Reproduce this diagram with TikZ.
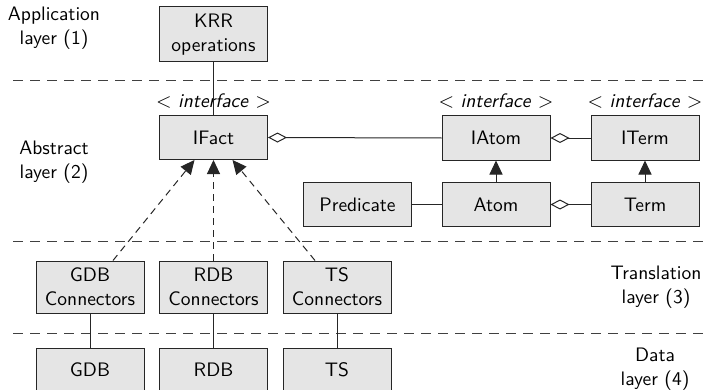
\documentclass[tikz,border=0pt]{standalone}
\usetikzlibrary{arrows.meta,calc}
\renewcommand{\familydefault}{\sfdefault}
\begin{document}
\begin{tikzpicture}[x=0.5pt,y=-0.5pt,
  font=\fontsize{9.75}{12}\selectfont\sffamily,
  box/.style={draw=black!85,line width=0.5pt,fill=black!10,minimum width=54pt,
    minimum height=22pt,inner sep=0pt,align=center},
  tallbox/.style={box,minimum height=26pt},
  link/.style={draw=black!85,line width=0.5pt},
  aggr/.style={link,{Diamond[open,length=9.5pt,width=5pt]}-},
  inherit/.style={link,-{Triangle[length=7pt,width=6.5pt]}},
  realize/.style={link,dash pattern=on 3.5pt off 2.5pt,-{Triangle[length=7pt,width=6.5pt]}},
  layersep/.style={draw=black!75,line width=0.5pt,dash pattern=on 5pt off 3.5pt},
  layerlabel/.style={align=center,inner sep=0pt},
  stereo/.style={inner sep=0pt}]
\useasboundingbox (0,0) rectangle (706,390);

% layer separators
\draw[layersep] (13,81) -- (706,81);
\draw[layersep] (13,241) -- (706,241);
\draw[layersep] (13,333) -- (706,333);

% layer names
\node[layerlabel] (l1) at (54,28) {Application\\layer (1)};
\node[layerlabel] (l2) at (54,162) {Abstract\\layer (2)};
\node[layerlabel] (l3) at (656,287) {Translation\\layer (3)};
\node[layerlabel] (l4) at (655,369) {Data\\layer (4)};

% application layer
\node[box,minimum height=27.5pt] (krr) at (213.5,34.5) {KRR\\operations};

% abstract layer
\node[box] (ifact) at (213.5,137.5) {IFact};
\node[box] (iatom) at (496,138) {IAtom};
\node[box] (iterm) at (645,138) {ITerm};
\node[box] (pred) at (357.5,204.5) {Predicate};
\node[box] (atom) at (496,204.5) {Atom};
\node[box] (term) at (645,204.5) {Term};

\node[stereo] (s1) at (213.5,101) {$<$ \textit{interface} $>$};
\node[stereo] (s2) at (496,101) {$<$ \textit{interface} $>$};
\node[stereo] (s3) at (645,101) {$<$ \textit{interface} $>$};

% translation layer
\node[tallbox] (gdbc) at (90,287) {GDB\\Connectors};
\node[tallbox] (rdbc) at (213.5,287) {RDB\\Connectors};
\node[tallbox] (tsc) at (337,287) {TS\\Connectors};

% data layer
\node[box] (gdb) at (90,370) {GDB};
\node[box] (rdb) at (213.5,370) {RDB};
\node[box] (ts) at (337,370) {TS};

% connectors
\draw[link] (krr.south) -- (ifact.north);
\draw[aggr] (ifact.east) -- (iatom.west);
\draw[aggr] (iatom.east) -- (iterm.west);
\draw[aggr] (atom.east) -- (term.west);
\draw[link] (pred.east) -- (atom.west);
\draw[inherit] (atom.north) -- (iatom.south);
\draw[inherit] (term.north) -- (iterm.south);

\draw[realize] ($(gdbc.north)+(23,0)$) -- ($(ifact.south)+(-19,0)$);
\draw[realize] (rdbc.north) -- (ifact.south);
\draw[realize] ($(tsc.north)+(-22,0)$) -- ($(ifact.south)+(19,0)$);

\draw[link] (gdbc.south) -- (gdb.north);
\draw[link] (rdbc.south) -- (rdb.north);
\draw[link] (tsc.south) -- (ts.north);
\end{tikzpicture}
\end{document}
